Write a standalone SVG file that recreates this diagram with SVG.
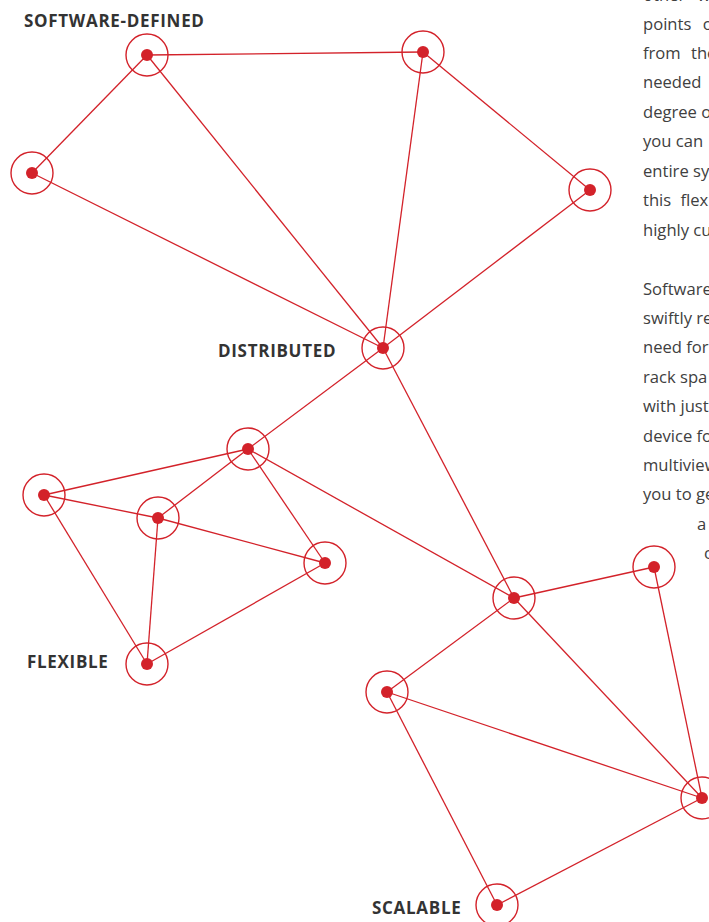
<svg xmlns="http://www.w3.org/2000/svg" width="709" height="922" viewBox="0 0 709 922">
<style>
.edge{stroke:#d3222a;stroke-width:1.3;fill:none}
.ring{stroke:#d3222a;stroke-width:1.4;fill:none}
.dot{fill:#d3222a}
.lbl{font-family:"Open Sans","Liberation Sans",sans-serif;font-weight:bold;font-size:17px;letter-spacing:0.7px;fill:#333333}
.body{font-family:"Open Sans","Liberation Sans",sans-serif;font-size:16.6px;fill:#404040}
</style>
<rect width="709" height="922" fill="#ffffff"/>
<g id="connectors">
<line class="edge" x1="147" y1="55" x2="423" y2="52"/>
<line class="edge" x1="147" y1="55" x2="32" y2="173"/>
<line class="edge" x1="147" y1="55" x2="383" y2="348"/>
<line class="edge" x1="32" y1="173" x2="383" y2="348"/>
<line class="edge" x1="423" y1="52" x2="383" y2="348"/>
<line class="edge" x1="423" y1="52" x2="590" y2="190"/>
<line class="edge" x1="590" y1="190" x2="383" y2="348"/>
<line class="edge" x1="383" y1="348" x2="248" y2="449"/>
<line class="edge" x1="383" y1="348" x2="514" y2="598"/>
<line class="edge" x1="248" y1="449" x2="44" y2="495"/>
<line class="edge" x1="248" y1="449" x2="158" y2="518"/>
<line class="edge" x1="248" y1="449" x2="325" y2="563"/>
<line class="edge" x1="248" y1="449" x2="514" y2="598"/>
<line class="edge" x1="44" y1="495" x2="158" y2="518"/>
<line class="edge" x1="44" y1="495" x2="147" y2="664"/>
<line class="edge" x1="158" y1="518" x2="325" y2="563"/>
<line class="edge" x1="158" y1="518" x2="147" y2="664"/>
<line class="edge" x1="325" y1="563" x2="147" y2="664"/>
<line class="edge" x1="514" y1="598" x2="654" y2="567"/>
<line class="edge" x1="514" y1="598" x2="387" y2="692"/>
<line class="edge" x1="514" y1="598" x2="702" y2="798"/>
<line class="edge" x1="654" y1="567" x2="702" y2="798"/>
<line class="edge" x1="387" y1="692" x2="702" y2="798"/>
<line class="edge" x1="387" y1="692" x2="497" y2="905"/>
<line class="edge" x1="497" y1="905" x2="702" y2="798"/>
</g>
<g id="n-a"><circle class="ring" cx="147" cy="55" r="21"/><circle class="dot" cx="147" cy="55" r="6"/></g>
<g id="n-b"><circle class="ring" cx="423" cy="52" r="21"/><circle class="dot" cx="423" cy="52" r="6"/></g>
<g id="n-c"><circle class="ring" cx="32" cy="173" r="21"/><circle class="dot" cx="32" cy="173" r="6"/></g>
<g id="n-d"><circle class="ring" cx="590" cy="190" r="21"/><circle class="dot" cx="590" cy="190" r="6"/></g>
<g id="n-e"><circle class="ring" cx="383" cy="348" r="21"/><circle class="dot" cx="383" cy="348" r="6"/></g>
<g id="n-f"><circle class="ring" cx="248" cy="449" r="21"/><circle class="dot" cx="248" cy="449" r="6"/></g>
<g id="n-g"><circle class="ring" cx="44" cy="495" r="21"/><circle class="dot" cx="44" cy="495" r="6"/></g>
<g id="n-h"><circle class="ring" cx="158" cy="518" r="21"/><circle class="dot" cx="158" cy="518" r="6"/></g>
<g id="n-i"><circle class="ring" cx="325" cy="563" r="21"/><circle class="dot" cx="325" cy="563" r="6"/></g>
<g id="n-j"><circle class="ring" cx="147" cy="664" r="21"/><circle class="dot" cx="147" cy="664" r="6"/></g>
<g id="n-k"><circle class="ring" cx="514" cy="598" r="21"/><circle class="dot" cx="514" cy="598" r="6"/></g>
<g id="n-l"><circle class="ring" cx="654" cy="567" r="21"/><circle class="dot" cx="654" cy="567" r="6"/></g>
<g id="n-m"><circle class="ring" cx="387" cy="692" r="21"/><circle class="dot" cx="387" cy="692" r="6"/></g>
<g id="n-n"><circle class="ring" cx="702" cy="798" r="21"/><circle class="dot" cx="702" cy="798" r="6"/></g>
<g id="n-o"><circle class="ring" cx="497" cy="905" r="21"/><circle class="dot" cx="497" cy="905" r="6"/></g>
<g id="labels">
<text class="lbl" x="24" y="27">SOFTWARE-DEFINED</text>
<text class="lbl" x="218" y="357">DISTRIBUTED</text>
<text class="lbl" x="27" y="668">FLEXIBLE</text>
<text class="lbl" x="372" y="914">SCALABLE</text>
</g>
<g id="paragraph" class="body">
<text x="643" y="1" word-spacing="8">other w</text>
<text x="643" y="30" word-spacing="7">points of</text>
<text x="643" y="59" word-spacing="6">from the</text>
<text x="643" y="88">needed</text>
<text x="643" y="118">degree of</text>
<text x="643" y="147">you can</text>
<text x="643" y="177">entire sy</text>
<text x="643" y="206" word-spacing="5">this flex</text>
<text x="643" y="236">highly cu</text>
<text x="643" y="295">Software</text>
<text x="643" y="324">swiftly re</text>
<text x="643" y="353">need for</text>
<text x="643" y="383">rack spa</text>
<text x="643" y="412">with just</text>
<text x="643" y="442">device fo</text>
<text x="643" y="471">multiview</text>
<text x="643" y="500">you to ge</text>
<text x="697" y="530">a</text>
<text x="704" y="559">c</text>
</g>
</svg>
